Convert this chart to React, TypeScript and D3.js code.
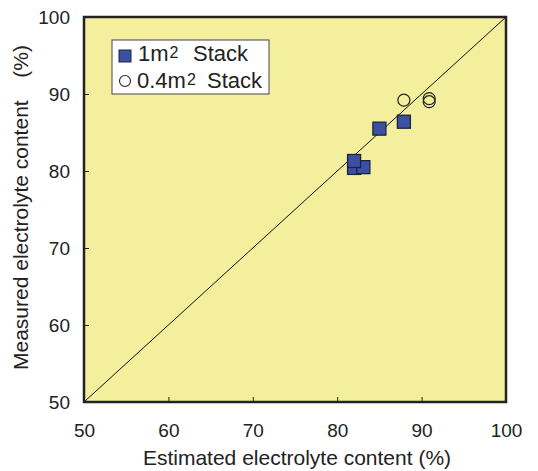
import { useEffect, useRef } from "react";
import * as d3 from "d3";

const width = 538;
const height = 471;
const margin = { top: 17, right: 32, bottom: 69, left: 84 };

// 1 m2 stack (filled squares)
const stack1x = [85.0, 87.9, 82.0, 83.1, 82.0];
const stack1y = [85.5, 86.4, 81.3, 80.5, 80.4];
// 0.4 m2 stack (open circles)
const stack04x = [87.9, 90.9, 90.9];
const stack04y = [89.2, 89.4, 89.0];

const ticks = [50, 60, 70, 80, 90, 100];

const App = () => {
  const ref = useRef<SVGSVGElement>(null);

  useEffect(() => {
    const svg = d3.select(ref.current);
    svg.selectAll("*").remove();

    const x = d3.scaleLinear().domain([50, 100]).range([margin.left, width - margin.right]);
    const y = d3.scaleLinear().domain([50, 100]).range([height - margin.bottom, margin.top]);

    const font = "'Liberation Sans', Arial, sans-serif";

    // plot background
    svg
      .append("rect")
      .attr("x", x(50))
      .attr("y", y(100))
      .attr("width", x(100) - x(50))
      .attr("height", y(50) - y(100))
      .attr("fill", "#f3ef9c");

    // 1:1 line
    svg
      .append("line")
      .attr("x1", x(50))
      .attr("y1", y(50))
      .attr("x2", x(100))
      .attr("y2", y(100))
      .attr("stroke", "#111")
      .attr("stroke-width", 1);

    // axes with inward ticks
    const xAxis = svg
      .append("g")
      .attr("transform", `translate(0,${y(50)})`)
      .call(d3.axisBottom(x).tickValues(ticks).tickSizeInner(-5).tickSizeOuter(0));
    const yAxis = svg
      .append("g")
      .attr("transform", `translate(${x(50)},0)`)
      .call(d3.axisLeft(y).tickValues(ticks).tickSizeInner(-5).tickSizeOuter(0));

    [xAxis, yAxis].forEach((g) => {
      g.select(".domain").remove();
      g.selectAll("line").attr("stroke", "#222");
      g.selectAll("text").attr("font-family", font).attr("font-size", 19).attr("fill", "#222");
    });
    xAxis.selectAll("text").attr("y", 35).attr("dy", 0);
    yAxis.selectAll("text").attr("x", -14).attr("dy", "0.35em");
    xAxis.selectAll(".tick").filter((d) => d === 50 || d === 100).select("line").remove();
    yAxis.selectAll(".tick").filter((d) => d === 50 || d === 100).select("line").remove();

    // frame
    svg
      .append("rect")
      .attr("x", x(50))
      .attr("y", y(100))
      .attr("width", x(100) - x(50))
      .attr("height", y(50) - y(100))
      .attr("fill", "none")
      .attr("stroke", "#222")
      .attr("stroke-width", 2.5);

    // points
    const sq = 13;
    svg
      .append("g")
      .selectAll("rect")
      .data(stack1x.map((v, i) => [v, stack1y[i]]).reverse())
      .join("rect")
      .attr("x", (d) => x(d[0]) - sq / 2)
      .attr("y", (d) => y(d[1]) - sq / 2)
      .attr("width", sq)
      .attr("height", sq)
      .attr("fill", "#3b4fa3")
      .attr("stroke", "#1e2440")
      .attr("stroke-width", 1.3);

    svg
      .append("g")
      .selectAll("circle")
      .data(stack04x.map((v, i) => [v, stack04y[i]]))
      .join("circle")
      .attr("cx", (d) => x(d[0]))
      .attr("cy", (d) => y(d[1]))
      .attr("r", 6)
      .attr("fill", "none")
      .attr("stroke", "#222")
      .attr("stroke-width", 1.2);

    // legend
    const lg = svg.append("g").attr("transform", "translate(112,40)");
    lg.append("rect")
      .attr("width", 157)
      .attr("height", 54)
      .attr("fill", "#fff")
      .attr("stroke", "#444")
      .attr("stroke-width", 1);
    lg.append("rect")
      .attr("x", 7)
      .attr("y", 10)
      .attr("width", 12)
      .attr("height", 12)
      .attr("fill", "#3b4fa3")
      .attr("stroke", "#1e2440");
    lg.append("circle")
      .attr("cx", 13)
      .attr("cy", 41)
      .attr("r", 5.5)
      .attr("fill", "none")
      .attr("stroke", "#222")
      .attr("stroke-width", 1.1);

    // label + superscript, then "Stack" at the x
    const legendText = [
      { t: "1m", s: "2", rest: "Stack", yy: 21, xs: [26, 81] },
      { t: "0.4m", s: "2", rest: "Stack", yy: 48, xs: [25, 95] },
    ];
    legendText.forEach((r) => {
      const txt = lg
        .append("text")
        .attr("y", r.yy)
        .attr("font-family", font)
        .attr("font-size", 22)
        .attr("fill", "#222");
      txt.append("tspan").attr("x", r.xs[0]).text(r.t);
      txt.append("tspan").attr("font-size", 16).attr("dx", 1).attr("dy", -3).text(r.s);
      txt.append("tspan").attr("x", r.xs[1]).attr("dy", 3).text(r.rest);
    });

    // axis titles
    svg
      .append("text")
      .attr("x", 297)
      .attr("y", 465)
      .attr("text-anchor", "middle")
      .attr("font-family", font)
      .attr("font-size", 21)
      .attr("fill", "#222")
      .text("Estimated electrolyte content (%)");

    const yTitle = svg
      .append("g")
      .attr("transform", "translate(28,0) rotate(-90)")
      .attr("font-family", font)
      .attr("font-size", 21)
      .attr("fill", "#222");
    yTitle
      .append("text")
      .attr("x", -370)
      .attr("text-anchor", "start")
      .text("Measured electrolyte content");
    yTitle
      .append("text")
      .attr("x", -45)
      .attr("text-anchor", "end")
      .text("(%)");
  }, []);

  return (
    <svg
      ref={ref}
      width={width}
      height={height}
      style={{ position: "absolute", left: 0, top: 0, background: "#fff" }}
    />
  );
};

export default App;
